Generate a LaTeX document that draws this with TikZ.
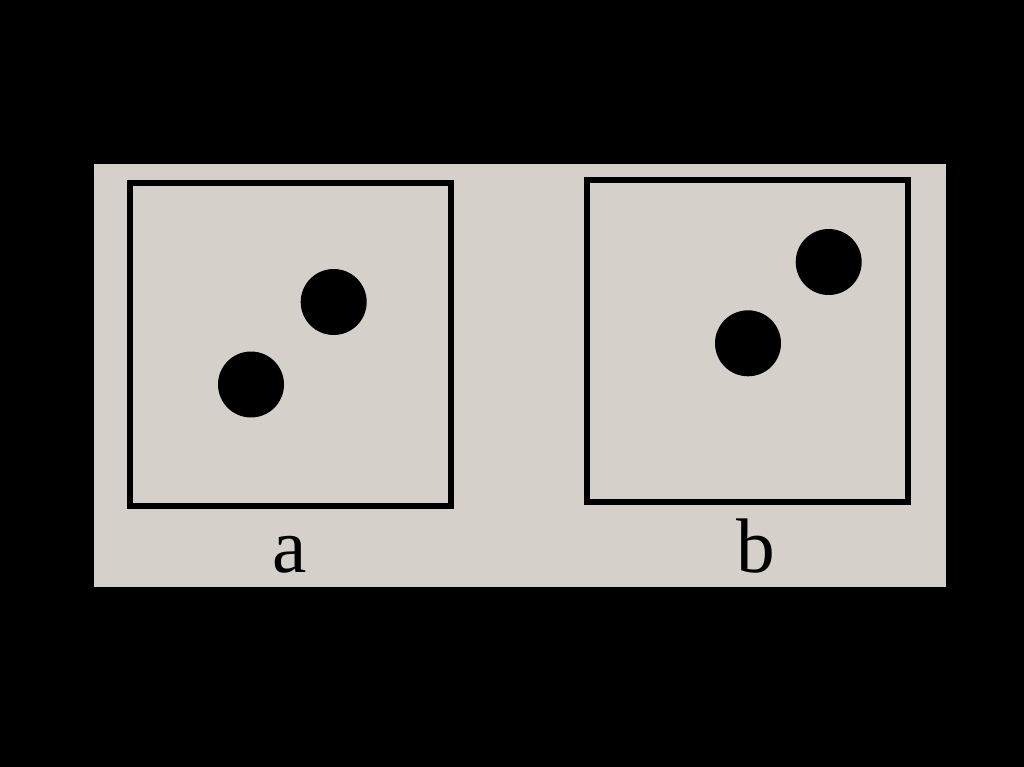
\documentclass[tikz,border=0pt]{standalone}
\usepackage{fontspec}
\setmainfont{Liberation Serif}
\definecolor{panel}{RGB}{214,208,202}
\begin{document}
\begin{tikzpicture}[x=0.02cm,y=-0.02cm]

      \fill[black] (0,0) rectangle (1024,767);
      \fill[panel] (93.5,164) rectangle (946,587);
      \useasboundingbox (0,0) rectangle (1024,767);

      \begin{scope}[every node/.style={rectangle,draw,line width=0.12cm,minimum width=6.44cm,minimum height=6.45cm,inner sep=0pt}]
        \node (A) at (290.5,344.5)  {};
        \node (B) at (747.5,341.25) {};
      \end{scope}

      \begin{scope}[every node/.style={circle,fill=black,inner sep=0pt,minimum size=1.32cm}]
        \node (a1) at (251,384.5)   {};
        \node (a2) at (333.7,302)   {};
        \node (b1) at (748,343.3)   {};
        \node (b2) at (828.7,262)   {};
      \end{scope}

      \begin{scope}[every node/.style={font=\fontsize{44}{44}\selectfont,inner sep=0pt,anchor=base}]
        \node (la) at (290,572) {a};
        \node (lb) at (756,572) {b};
      \end{scope}

    \end{tikzpicture}
\end{document}
